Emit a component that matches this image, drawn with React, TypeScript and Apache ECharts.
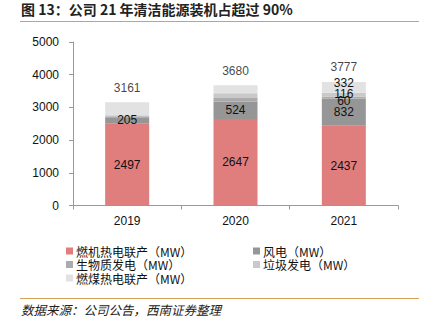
import React, { useEffect, useRef } from "react";
import * as echarts from "echarts";

const years = ["2019", "2020", "2021"];
const gasChp = [2497, 2647, 2437];
const wind = [205, 524, 832];
const biomass = [30, 120, 60];
const garbage = [30, 140, 116];
const coalChp = [399, 249, 332];
const totals = [3161, 3680, 3777];

const seriesNames = [
  "燃机热电联产（MW）",
  "风电（MW）",
  "生物质发电（MW）",
  "垃圾发电（MW）",
  "燃煤热电联产（MW）",
];
const colors = ["#E07D7D", "#969696", "#ABABAB", "#C9C9C9", "#E2E2E2"];

const FONT = "'Liberation Sans', Arial, 'Noto Sans CJK SC', sans-serif";
const CJK = "'Noto Sans CJK SC', sans-serif";

export default function App() {
  const ref = useRef<HTMLDivElement>(null);
  useEffect(() => {
    if (!ref.current) return;
    const chart = echarts.init(ref.current, null, { renderer: "svg" });
    const labelStyle = { color: "#111", fontSize: 12, fontFamily: FONT };
    const lastOffsets = [[0, 3], [0, -1], [0, -4]];
    const mk = (idx: number, vals: number[], showAll: boolean) => ({
      name: seriesNames[idx],
      type: "bar",
      stack: "total",
      barWidth: 44,
      itemStyle: { color: colors[idx] },
      label: { show: showAll, position: "inside", ...labelStyle },
      data: showAll
        ? vals
        : vals.map((v, i) =>
            i === 2
              ? { value: v, label: { show: true, position: "inside", offset: lastOffsets[idx - 2], ...labelStyle } }
              : v
          ),
    });
    const legendBase = {
      orient: "vertical",
      top: 245,
      padding: 0,
      itemWidth: 7,
      itemHeight: 7,
      itemGap: 1.5,
      icon: "rect",
      textStyle: { fontSize: 12, lineHeight: 12, fontFamily: CJK, color: "#111", padding: [0, 0, 0, -2] },
    };
    chart.setOption({
      animation: false,
      color: colors,
      grid: { left: 73, right: 29, top: 42, bottom: 122.5 },
      xAxis: {
        type: "category",
        data: years,
        axisLine: { lineStyle: { color: "#999" } },
        axisTick: { show: true, length: 4, lineStyle: { color: "#999" } },
        axisLabel: { color: "#111", fontSize: 12, fontFamily: FONT, margin: 9 },
      },
      yAxis: {
        type: "value",
        min: 0,
        max: 5000,
        interval: 1000,
        axisLine: { show: true, lineStyle: { color: "#999" } },
        axisTick: { show: true, length: 4, lineStyle: { color: "#999" } },
        splitLine: { show: false },
        axisLabel: {
          color: "#111",
          fontSize: 12,
          fontFamily: FONT,
          margin: 14,
          formatter: (v: number) => String(v),
        },
      },
      legend: [
        { ...legendBase, left: 66, data: [seriesNames[0], seriesNames[2], seriesNames[4]] },
        { ...legendBase, left: 253, data: [seriesNames[1], seriesNames[3]] },
      ],
      series: [
        mk(0, gasChp, true),
        mk(1, wind, true),
        mk(2, biomass, false),
        mk(3, garbage, false),
        mk(4, coalChp, false),
        {
          name: "合计",
          type: "scatter",
          data: totals,
          symbol: "circle",
          symbolSize: 1,
          itemStyle: { color: "rgba(0,0,0,0)" },
          label: { show: true, position: "top", distance: 8, ...labelStyle },
          emphasis: { disabled: true },
          z: 10,
        },
      ],
      graphic: [
        {
          type: "text",
          left: 21,
          top: 2,
          style: {
            text: "图 13：公司 21 年清洁能源装机占超过 90%",
            font: "bold 14px 'Noto Sans CJK SC', sans-serif",
            fill: "#222",
          },
        },
        {
          type: "line",
          shape: { x1: 20, y1: 21.5, x2: 419, y2: 21.5 },
          style: { stroke: "#D6A150", lineWidth: 1 },
        },
        {
          type: "line",
          shape: { x1: 20, y1: 298.5, x2: 419, y2: 298.5 },
          style: { stroke: "#D6A150", lineWidth: 1 },
        },
        {
          type: "text",
          left: 21,
          top: 303,
          style: {
            text: "数据来源：公司公告，西南证券整理",
            font: "italic 12.5px 'Noto Sans CJK SC', sans-serif",
            fill: "#222",
          },
        },
      ],
    });
    return () => chart.dispose();
  }, []);
  return <div ref={ref} style={{ width: 427, height: 328, position: "absolute", left: 0, top: 0, background: "#fff" }} />;
}
